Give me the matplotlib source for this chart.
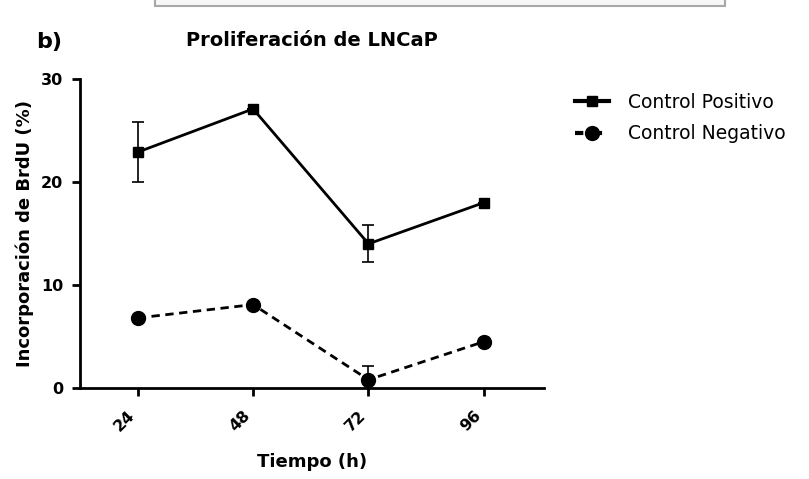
import matplotlib.pyplot as plt
from matplotlib.lines import Line2D
from matplotlib.patches import Rectangle

# data
tiempo = [24, 48, 72, 96]
pos_mean = [22.9, 27.1, 14.0, 18.0]
pos_err = [2.9, 0.0, 1.8, 0.0]
neg_mean = [6.8, 8.1, 0.8, 4.5]
neg_err = [0.0, 0.0, 1.3, 0.0]
tick_labels = ["24", "48", "72", "96"]

plt.rcParams['font.family'] = ['DejaVu Sans']

fig = plt.figure(figsize=(8.09, 4.79), dpi=100)
ax = fig.add_axes([0.0989, 0.19, 0.5735, 0.645])

ax.errorbar(tiempo, pos_mean, yerr=pos_err, color='black', lw=2, marker='s', ms=7.5,
            ecolor='black', elinewidth=1.2, capsize=4, capthick=1.2)
ax.errorbar(tiempo, neg_mean, yerr=neg_err, color='black', lw=2, ls=(0, (3, 2)), marker='o', ms=10,
            ecolor='black', elinewidth=1.2, capsize=4, capthick=1.2)

ax.set_xlim(12, 108.5)
ax.set_ylim(0, 30)
ax.set_xticks(tiempo)
ax.set_xticklabels(tick_labels, rotation=45, ha='right', fontweight='bold', fontsize=11.5)
ax.set_yticks([0, 10, 20, 30])
ax.set_yticklabels(["0", "10", "20", "30"], fontweight='bold', fontsize=11.5)
for s in ['top', 'right']:
    ax.spines[s].set_visible(False)
for s in ['left', 'bottom']:
    ax.spines[s].set_linewidth(2)
ax.tick_params(axis='both', direction='out', length=6, width=2)
ax.tick_params(axis='x', pad=8)
ax.tick_params(axis='y', pad=6)
ax.spines['left'].set_clip_on(False)
ax.spines['bottom'].set_clip_on(False)

ax.set_xlabel("Tiempo (h)", fontweight='bold', fontsize=13, labelpad=14)
ax.set_ylabel("Incorporación de BrdU (%)", fontweight='bold', fontsize=13, labelpad=5)
ax.set_title("Proliferación de LNCaP", fontweight='bold', fontsize=14, pad=24)

handles = [Line2D([], [], color='black', lw=3, marker='s', ms=7),
           Line2D([], [], color='black', lw=3, ls=(0, (2, 2.5)), marker='o', ms=10)]
labels = ["Control Positivo", "Control Negativo"]
fig.legend(handles, labels, loc='upper left', bbox_to_anchor=(575 / 809, 1 - 93 / 479), frameon=False,
           fontsize=13.5, handlelength=1.8, handletextpad=1.0, labelspacing=0.65,
           borderpad=0, borderaxespad=0)

fig.text(0.045, 0.9, "b)", fontweight='bold', fontsize=16)

# remnant of the image frame at the top edge
fig.patches.append(Rectangle((155 / 809, 1 - 6 / 479), 570 / 809, 0.05, transform=fig.transFigure,
                             facecolor='#f7f7f7', edgecolor='#a8a8a8', lw=1.5, clip_on=False))

fig.savefig("out.png", dpi=100)
